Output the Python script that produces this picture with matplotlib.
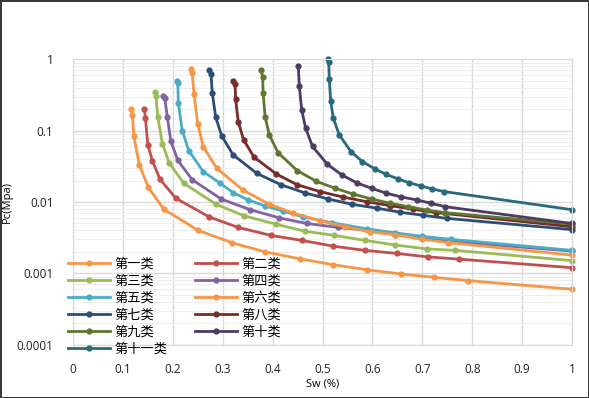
import matplotlib
matplotlib.use("Agg")
import matplotlib.pyplot as plt

# fonte: numeros em Open Sans, texto chines em Noto Sans CJK
plt.rcParams["font.family"] = ["Open Sans", "Noto Sans CJK SC", "DejaVu Sans"]

# dados (Sw, Pc)
x1 = [0.116, 0.119, 0.122, 0.133, 0.151, 0.182, 0.251, 0.319, 0.385, 0.454, 0.522, 0.59, 0.657, 0.723, 0.792, 1.0]
y1 = [0.2, 0.166, 0.084, 0.033, 0.016, 0.0079, 0.004, 0.00268, 0.002, 0.0016, 0.00132, 0.00112, 0.00098, 0.00088, 0.00079, 0.0006]

x2 = [0.143, 0.145, 0.15, 0.159, 0.174, 0.206, 0.2725, 0.331, 0.397, 0.458, 0.522, 0.585, 0.649, 0.712, 0.774, 1.0]
y2 = [0.2, 0.152, 0.063, 0.038, 0.021, 0.0113, 0.0062, 0.0044, 0.0034, 0.0029, 0.0024, 0.0021, 0.0019, 0.0017, 0.00158, 0.0012]

x3 = [0.164, 0.166, 0.17, 0.179, 0.193, 0.222, 0.2865, 0.343, 0.406, 0.464, 0.524, 0.585, 0.645, 0.709, 0.766, 1.0]
y3 = [0.352, 0.306, 0.157, 0.066, 0.035, 0.0183, 0.0093, 0.0064, 0.0049, 0.0039, 0.0034, 0.0029, 0.0025, 0.0022, 0.0021, 0.00151]

x4 = [0.181, 0.184, 0.189, 0.196, 0.21, 0.239, 0.297, 0.355, 0.413, 0.468, 0.532, 0.592, 0.645, 0.70, 0.757, 1.0]
y4 = [0.306, 0.284, 0.155, 0.072, 0.0383, 0.0205, 0.011, 0.0078, 0.006, 0.005, 0.0044, 0.004, 0.0035, 0.0031, 0.0028, 0.00205]

x5 = [0.208, 0.21, 0.211, 0.219, 0.232, 0.261, 0.295, 0.321, 0.351, 0.385, 0.42, 0.46, 0.52, 0.59, 0.645, 0.70, 0.757, 1.0]
y5 = [0.50, 0.47, 0.247, 0.1, 0.0525, 0.0267, 0.0183, 0.0135, 0.0107, 0.0088, 0.0075, 0.0062, 0.0051, 0.0042, 0.0037, 0.0033, 0.003, 0.0021]

x6 = [0.2365, 0.239, 0.2425, 0.25, 0.261, 0.288, 0.34, 0.393, 0.441, 0.494, 0.545, 0.595, 0.645, 0.699, 0.752, 1.0]
y6 = [0.724, 0.637, 0.324, 0.124, 0.0597, 0.0297, 0.0148, 0.0093, 0.007, 0.0055, 0.0045, 0.0038, 0.0035, 0.003, 0.0027, 0.0018]

x7 = [0.273, 0.2766, 0.279, 0.286, 0.298, 0.321, 0.368, 0.417, 0.465, 0.512, 0.5585, 0.6086, 0.655, 0.702, 0.749, 1.0]
y7 = [0.708, 0.622, 0.341, 0.154, 0.0843, 0.0457, 0.0253, 0.0174, 0.0134, 0.011, 0.0093, 0.0082, 0.0072, 0.0065, 0.0059, 0.0041]

x8 = [0.321, 0.3246, 0.326, 0.331, 0.342, 0.363, 0.407, 0.4495, 0.495, 0.5417, 0.5886, 0.635, 0.682, 0.727, 1.0]
y8 = [0.50, 0.451, 0.275, 0.134, 0.074, 0.0424, 0.0248, 0.0174, 0.014, 0.0117, 0.0101, 0.0089, 0.0079, 0.0071, 0.0045]

x9 = [0.3768, 0.380, 0.381, 0.385, 0.3934, 0.411, 0.4495, 0.4876, 0.525, 0.5617, 0.5986, 0.635, 0.672, 0.709, 0.7455, 1.0]
y9 = [0.708, 0.57, 0.334, 0.157, 0.087, 0.049, 0.0275, 0.0195, 0.0156, 0.0129, 0.011, 0.0096, 0.0086, 0.0077, 0.0071, 0.0049]

x10 = [0.4515, 0.4535, 0.4583, 0.4663, 0.480, 0.5096, 0.5385, 0.5685, 0.5986, 0.628, 0.657, 0.6888, 0.7174, 0.7455, 1.0]
y10 = [0.806, 0.423, 0.195, 0.108, 0.060, 0.0339, 0.024, 0.0186, 0.0155, 0.0133, 0.0118, 0.0107, 0.0096, 0.0086, 0.005]

x11 = [0.5116, 0.5124, 0.5136, 0.5164, 0.5216, 0.5337, 0.557, 0.58, 0.605, 0.627, 0.651, 0.673, 0.697, 0.7204, 0.7435, 1.0]
y11 = [1.0, 0.925, 0.525, 0.26, 0.149, 0.087, 0.0508, 0.0368, 0.0291, 0.0245, 0.0211, 0.0187, 0.0168, 0.0152, 0.014, 0.0078]

nomes = ["第一类", "第二类", "第三类", "第四类", "第五类", "第六类",
         "第七类", "第八类", "第九类", "第十类", "第十一类"]
cores = ["#F79646", "#C0504D", "#9BBB59", "#8064A2", "#4BACC6", "#F79646",
         "#2C4D75", "#772C2A", "#5F7530", "#4D3B62", "#276A7C"]

xs = [x1, x2, x3, x4, x5, x6, x7, x8, x9, x10, x11]
ys = [y1, y2, y3, y4, y5, y6, y7, y8, y9, y10, y11]

fig = plt.figure(figsize=(5.89, 3.98), dpi=100, linewidth=2, edgecolor="#3a3a3a")
ax = fig.add_axes([73 / 589, 1 - 344.7 / 398, 499 / 589, (344.7 - 59.3) / 398])

linhas = []
for x, y, nome, cor in zip(xs, ys, nomes, cores):
    l, = ax.plot(x, y, color=cor, linewidth=2, marker="o", markersize=3.5,
                 label=nome, clip_on=False)
    linhas.append(l)

ax.set_yscale("log")
ax.set_xlim(0, 1)
ax.set_ylim(0.0001, 1)

ax.set_xticks([0, 0.1, 0.2, 0.3, 0.4, 0.5, 0.6, 0.7, 0.8, 0.9, 1])
ax.set_xticklabels(["0", "0.1", "0.2", "0.3", "0.4", "0.5", "0.6", "0.7", "0.8", "0.9", "1"])
ax.set_yticks([0.0001, 0.001, 0.01, 0.1, 1])
ax.set_yticklabels(["0.0001", "0.001", "0.01", "0.1", "1"])
ax.tick_params(axis="both", which="both", length=0, labelsize=8.5, colors="#222222")
ax.tick_params(axis="x", pad=13)
ax.tick_params(axis="y", pad=14)

# grade
ax.grid(True, which="major", color="#d9d9d9", linewidth=1)
ax.grid(True, which="minor", axis="y", color="#eeeeee", linewidth=0.8)
ax.set_axisbelow(True)
for s in ax.spines.values():
    s.set_color("#d9d9d9")

ax.set_xlabel("Sw (%)", fontsize=8, labelpad=2)
ax.set_ylabel("Pc(Mpa)", fontsize=8)
ax.yaxis.set_label_coords(-0.12, 0.5)

# legenda em linhas: matplotlib preenche por coluna, entao reordena
ordem = [0, 2, 4, 6, 8, 10, 1, 3, 5, 7, 9]
leg = ax.legend([linhas[i] for i in ordem], [nomes[i] for i in ordem],
                ncol=2, loc="upper left", bbox_to_anchor=(68 / 589, 1 - 258 / 398),
                bbox_transform=fig.transFigure, frameon=False,
                borderpad=0, borderaxespad=0, handlelength=3.2, handletextpad=0.3,
                columnspacing=2.1, labelspacing=0.3,
                prop={"family": ["Noto Sans CJK SC", "DejaVu Sans"], "size": 9.5})

fig.savefig("out.png", dpi=100)
